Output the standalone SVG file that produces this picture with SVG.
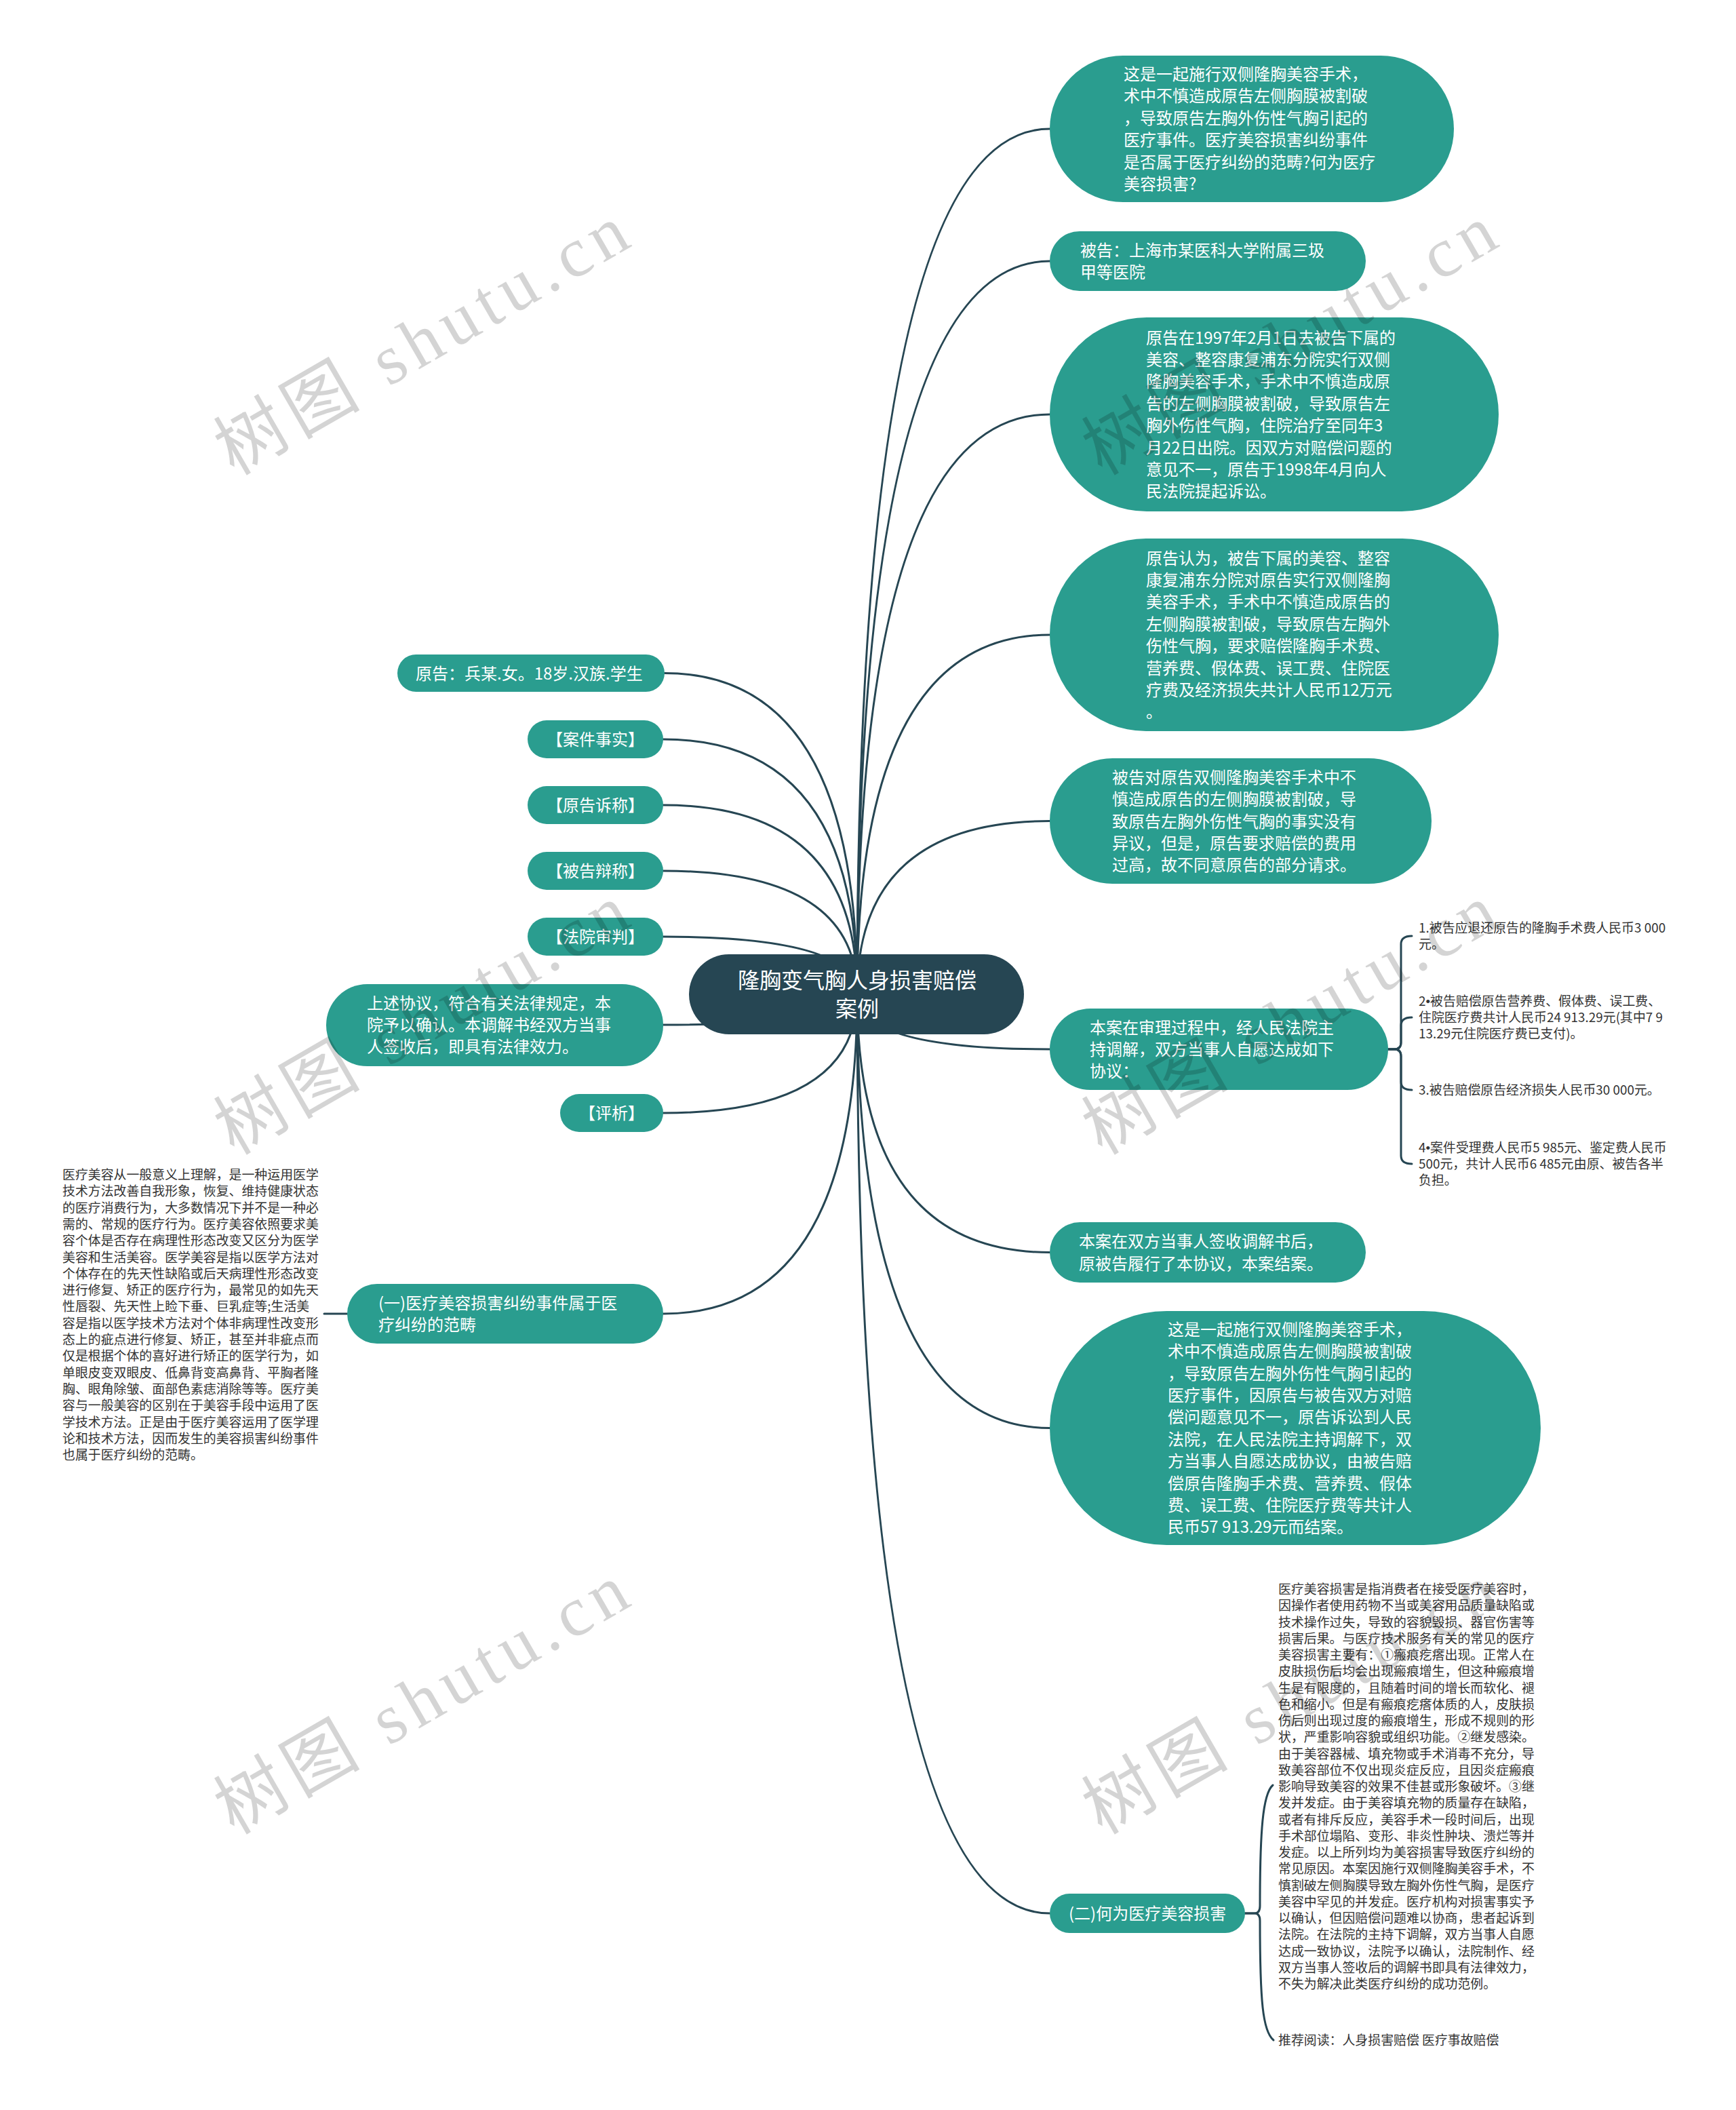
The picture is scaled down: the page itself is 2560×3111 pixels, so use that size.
<svg xmlns="http://www.w3.org/2000/svg" width="2560" height="3111" viewBox="0 0 2560 3111">
<style>
.bg{fill:#ffffff}
.n{fill:#2a9d8f}
.root{fill:#264653}
.t{font-family:"Noto Sans CJK SC","Noto Sans CJK JP",sans-serif;font-size:24px;fill:#ffffff}
.tc{font-family:"Noto Sans CJK SC","Noto Sans CJK JP",sans-serif;font-size:24px;fill:#ffffff;text-anchor:middle}
.rt{font-family:"Noto Sans CJK SC","Noto Sans CJK JP",sans-serif;font-size:32px;fill:#ffffff;text-anchor:middle}
.s{font-family:"Noto Sans CJK SC","Noto Sans CJK JP",sans-serif;font-size:18.9px;fill:#333333}
.b{font-family:"Liberation Sans",sans-serif}
.c{fill:none;stroke:#264653;stroke-width:3;stroke-linecap:round}
.wm{font-family:"Liberation Serif","Noto Sans CJK SC",serif;font-size:104px;fill:#000000;fill-opacity:0.17}
</style>
<rect class="bg" x="0" y="0" width="2560" height="3111"/>

<g id="connectors">
<path class="c" d="M980 992.5 Q1264 992.5 1264 1466"/>
<path class="c" d="M978 1090 Q1264 1090 1264 1466"/>
<path class="c" d="M978 1187 Q1264 1187 1264 1466"/>
<path class="c" d="M978 1284 Q1264 1284 1264 1466"/>
<path class="c" d="M978 1381 Q1264 1381 1264 1466"/>
<path class="c" d="M978 1511 Q1264 1511 1264 1466"/>
<path class="c" d="M978 1641 Q1264 1641 1264 1466"/>
<path class="c" d="M978 1937 Q1264 1937 1264 1466"/>
<path class="c" d="M1264 1466 Q1264 190 1548 190"/>
<path class="c" d="M1264 1466 Q1264 385 1548 385"/>
<path class="c" d="M1264 1466 Q1264 611 1548 611"/>
<path class="c" d="M1264 1466 Q1264 936 1548 936"/>
<path class="c" d="M1264 1466 Q1264 1210.5 1548 1210.5"/>
<path class="c" d="M1264 1466 Q1264 1547 1548 1547"/>
<path class="c" d="M1264 1466 Q1264 1846.5 1548 1846.5"/>
<path class="c" d="M1264 1466 Q1264 2105.5 1548 2105.5"/>
<path class="c" d="M1264 1466 Q1264 2821 1548 2821"/>
<path class="c" d="M512 1937 L478 1937"/>
<path class="c" d="M2047 1547 L2056 1547 Q2066 1547 2066 1537 L2066 1392 Q2066 1380 2082 1380"/>
<path class="c" d="M2047 1547 L2056 1547 Q2066 1547 2066 1537 L2066 1512 Q2066 1500 2082 1500"/>
<path class="c" d="M2047 1547 L2056 1547 Q2066 1547 2066 1557 L2066 1595 Q2066 1607 2082 1607"/>
<path class="c" d="M2047 1547 L2056 1547 Q2066 1547 2066 1557 L2066 1704 Q2066 1716 2082 1716"/>
<path class="c" d="M1836 2821 L1850 2821 Q1858 2821 1858 2810 C1858 2700 1862 2645 1877 2632"/>
<path class="c" d="M1836 2821 L1850 2821 Q1858 2821 1858 2832 C1858 2950 1862 2995 1878 3008"/>
</g>

<g id="root">
<rect class="root" x="1016" y="1407" width="494" height="118" rx="59"/>
<text class="rt" x="1264" y="1457">隆胸变气胸人身损害赔偿</text>
<text class="rt" x="1264" y="1499">案例</text>
</g>

<g id="n-yuangao">
<rect class="n" x="586" y="965" width="394" height="55" rx="27.5"/>
<text class="t" x="613" y="1001.5">原告：兵某.女。18岁.汉族.学生</text>
</g>
<g id="n-anjianshishi">
<rect class="n" x="778" y="1062" width="200" height="56" rx="28"/>
<text class="tc" x="878" y="1099">【案件事实】</text>
</g>
<g id="n-yuangaosucheng">
<rect class="n" x="778" y="1159" width="200" height="56" rx="28"/>
<text class="tc" x="878" y="1196">【原告诉称】</text>
</g>
<g id="n-beigaobiancheng">
<rect class="n" x="778" y="1256" width="200" height="56" rx="28"/>
<text class="tc" x="878" y="1293">【被告辩称】</text>
</g>
<g id="n-fayuanshenpan">
<rect class="n" x="778" y="1353" width="200" height="56" rx="28"/>
<text class="tc" x="878" y="1390">【法院审判】</text>
</g>
<g id="n-shangshuxieyi">
<rect class="n" x="481" y="1451" width="497" height="121" rx="60.5"/>
<text class="t" x="541" y="1487.6">上述协议，符合有关法律规定，本</text>
<text class="t" x="541" y="1520">院予以确认。本调解书经双方当事</text>
<text class="t" x="541" y="1552.4">人签收后，即具有法律效力。</text>
</g>
<g id="n-pingxi">
<rect class="n" x="826" y="1613" width="152" height="56" rx="28"/>
<text class="tc" x="902" y="1650">【评析】</text>
</g>
<g id="n-yi">
<rect class="n" x="512" y="1893" width="466" height="88" rx="44"/>
<text class="t" x="558" y="1929.8">(一)医疗美容损害纠纷事件属于医</text>
<text class="t" x="558" y="1962.2">疗纠纷的范畴</text>
</g>
<g id="n-yi-text">
<text class="s" x="92" y="1739">
<tspan x="92" dy="0">医疗美容从一般意义上理解，是一种运用医学</tspan>
<tspan x="92" dy="24.3">技术方法改善自我形象，恢复、维持健康状态</tspan>
<tspan x="92" dy="24.3">的医疗消费行为，大多数情况下并不是一种必</tspan>
<tspan x="92" dy="24.3">需的、常规的医疗行为。医疗美容依照要求美</tspan>
<tspan x="92" dy="24.3">容个体是否存在病理性形态改变又区分为医学</tspan>
<tspan x="92" dy="24.3">美容和生活美容。医学美容是指以医学方法对</tspan>
<tspan x="92" dy="24.3">个体存在的先天性缺陷或后天病理性形态改变</tspan>
<tspan x="92" dy="24.3">进行修复、矫正的医疗行为，最常见的如先天</tspan>
<tspan x="92" dy="24.3">性唇裂、先天性上睑下垂、巨乳症等;生活美</tspan>
<tspan x="92" dy="24.3">容是指以医学技术方法对个体非病理性改变形</tspan>
<tspan x="92" dy="24.3">态上的疵点进行修复、矫正，甚至并非疵点而</tspan>
<tspan x="92" dy="24.3">仅是根据个体的喜好进行矫正的医学行为，如</tspan>
<tspan x="92" dy="24.3">单眼皮变双眼皮、低鼻背变高鼻背、平胸者隆</tspan>
<tspan x="92" dy="24.3">胸、眼角除皱、面部色素痣消除等等。医疗美</tspan>
<tspan x="92" dy="24.3">容与一般美容的区别在于美容手段中运用了医</tspan>
<tspan x="92" dy="24.3">学技术方法。正是由于医疗美容运用了医学理</tspan>
<tspan x="92" dy="24.3">论和技术方法，因而发生的美容损害纠纷事件</tspan>
<tspan x="92" dy="24.3">也属于医疗纠纷的范畴。</tspan>
</text>
</g>

<g id="n-r1">
<rect class="n" x="1548" y="82" width="596" height="216" rx="108"/>
<text class="t" x="1657" y="118">这是一起施行双侧隆胸美容手术，</text>
<text class="t" x="1657" y="150.4">术中不慎造成原告左侧胸膜被割破</text>
<text class="t" x="1657" y="182.8">，导致原告左胸外伤性气胸引起的</text>
<text class="t" x="1657" y="215.2">医疗事件。医疗美容损害纠纷事件</text>
<text class="t" x="1657" y="247.6">是否属于医疗纠纷的范畴?何为医疗</text>
<text class="t" x="1657" y="280">美容损害?</text>
</g>
<g id="n-r2">
<rect class="n" x="1548" y="341" width="466" height="88" rx="44"/>
<text class="t" x="1593" y="377.8">被告：上海市某医科大学附属三圾</text>
<text class="t" x="1593" y="410.2">甲等医院</text>
</g>
<g id="n-r3">
<rect class="n" x="1548" y="468" width="662" height="286" rx="143"/>
<text class="t" x="1690" y="506.6">原告在1997年2月1日去被告下属的</text>
<text class="t" x="1690" y="539">美容、整容康复浦东分院实行双侧</text>
<text class="t" x="1690" y="571.4">隆胸美容手术，手术中不慎造成原</text>
<text class="t" x="1690" y="603.8">告的左侧胸膜被割破，导致原告左</text>
<text class="t" x="1690" y="636.2">胸外伤性气胸，住院治疗至同年3</text>
<text class="t" x="1690" y="668.6">月22日出院。因双方对赔偿问题的</text>
<text class="t" x="1690" y="701">意见不一，原告于1998年4月向人</text>
<text class="t" x="1690" y="733.4">民法院提起诉讼。</text>
</g>
<g id="n-r4">
<rect class="n" x="1548" y="794" width="662" height="284" rx="142"/>
<text class="t" x="1690" y="831.6">原告认为，被告下属的美容、整容</text>
<text class="t" x="1690" y="864">康复浦东分院对原告实行双侧隆胸</text>
<text class="t" x="1690" y="896.4">美容手术，手术中不慎造成原告的</text>
<text class="t" x="1690" y="928.8">左侧胸膜被割破，导致原告左胸外</text>
<text class="t" x="1690" y="961.2">伤性气胸，要求赔偿隆胸手术费、</text>
<text class="t" x="1690" y="993.6">营养费、假体费、误工费、住院医</text>
<text class="t" x="1690" y="1026">疗费及经济损失共计人民币12万元</text>
<text class="t" x="1690" y="1058.4">。</text>
</g>
<g id="n-r5">
<rect class="n" x="1548" y="1118" width="563" height="185" rx="92.5"/>
<text class="t" x="1640" y="1154.7">被告对原告双侧隆胸美容手术中不</text>
<text class="t" x="1640" y="1187.1">慎造成原告的左侧胸膜被割破，导</text>
<text class="t" x="1640" y="1219.5">致原告左胸外伤性气胸的事实没有</text>
<text class="t" x="1640" y="1251.9">异议，但是，原告要求赔偿的费用</text>
<text class="t" x="1640" y="1284.3">过高，故不同意原告的部分请求。</text>
</g>
<g id="n-r6">
<rect class="n" x="1548" y="1487" width="499" height="120" rx="60"/>
<text class="t" x="1607" y="1523.6">本案在审理过程中，经人民法院主</text>
<text class="t" x="1607" y="1556">持调解，双方当事人自愿达成如下</text>
<text class="t" x="1607" y="1588.4">协议：</text>
</g>
<g id="n-r6-1">
<text class="s" x="2092" y="1374.5">1.被告应退还原告的隆胸手术费人民币3 000</text>
<text class="s" x="2092" y="1398.8">元。</text>
</g>
<g id="n-r6-2">
<text class="s" x="2092" y="1482.7">2<tspan class="b">•</tspan>被告赔偿原告营养费、假体费、误工费、</text>
<text class="s" x="2092" y="1507">住院医疗费共计人民币24 913.29元(其中7 9</text>
<text class="s" x="2092" y="1531.3">13.29元住院医疗费已支付)。</text>
</g>
<g id="n-r6-3">
<text class="s" x="2092" y="1614">3.被告赔偿原告经济损失人民币30 000元。</text>
</g>
<g id="n-r6-4">
<text class="s" x="2092" y="1698.7">4<tspan class="b">•</tspan>案件受理费人民币5 985元、鉴定费人民币</text>
<text class="s" x="2092" y="1723">500元，共计人民币6 485元由原、被告各半</text>
<text class="s" x="2092" y="1747.3">负担。</text>
</g>
<g id="n-r7">
<rect class="n" x="1548" y="1802" width="466" height="89" rx="44.5"/>
<text class="t" x="1591" y="1839.3">本案在双方当事人签收调解书后，</text>
<text class="t" x="1591" y="1871.7">原被告履行了本协议，本案结案。</text>
</g>
<g id="n-r8">
<rect class="n" x="1548" y="1933" width="724" height="345" rx="172.5"/>
<text class="t" x="1722" y="1968.7">这是一起施行双侧隆胸美容手术，</text>
<text class="t" x="1722" y="2001.1">术中不慎造成原告左侧胸膜被割破</text>
<text class="t" x="1722" y="2033.5">，导致原告左胸外伤性气胸引起的</text>
<text class="t" x="1722" y="2065.9">医疗事件，因原告与被告双方对赔</text>
<text class="t" x="1722" y="2098.3">偿问题意见不一，原告诉讼到人民</text>
<text class="t" x="1722" y="2130.7">法院，在人民法院主持调解下，双</text>
<text class="t" x="1722" y="2163.1">方当事人自愿达成协议，由被告赔</text>
<text class="t" x="1722" y="2195.5">偿原告隆胸手术费、营养费、假体</text>
<text class="t" x="1722" y="2227.9">费、误工费、住院医疗费等共计人</text>
<text class="t" x="1722" y="2260.3">民币57 913.29元而结案。</text>
</g>
<g id="n-er">
<rect class="n" x="1548" y="2792" width="288" height="58" rx="29"/>
<text class="t" x="1576" y="2830">(二)何为医疗美容损害</text>
</g>
<g id="n-er-text">
<text class="s" x="1885" y="2350">
<tspan x="1885" dy="0">医疗美容损害是指消费者在接受医疗美容时，</tspan>
<tspan x="1885" dy="24.25">因操作者使用药物不当或美容用品质量缺陷或</tspan>
<tspan x="1885" dy="24.25">技术操作过失，导致的容貌毁损、器官伤害等</tspan>
<tspan x="1885" dy="24.25">损害后果。与医疗技术服务有关的常见的医疗</tspan>
<tspan x="1885" dy="24.25">美容损害主要有：①瘢痕疙瘩出现。正常人在</tspan>
<tspan x="1885" dy="24.25">皮肤损伤后均会出现瘢痕增生，但这种瘢痕增</tspan>
<tspan x="1885" dy="24.25">生是有限度的，且随着时间的增长而软化、褪</tspan>
<tspan x="1885" dy="24.25">色和缩小。但是有瘢痕疙瘩体质的人，皮肤损</tspan>
<tspan x="1885" dy="24.25">伤后则出现过度的瘢痕增生，形成不规则的形</tspan>
<tspan x="1885" dy="24.25">状，严重影响容貌或组织功能。②继发感染。</tspan>
<tspan x="1885" dy="24.25">由于美容器械、填充物或手术消毒不充分，导</tspan>
<tspan x="1885" dy="24.25">致美容部位不仅出现炎症反应，且因炎症瘢痕</tspan>
<tspan x="1885" dy="24.25">影响导致美容的效果不佳甚或形象破坏。③继</tspan>
<tspan x="1885" dy="24.25">发并发症。由于美容填充物的质量存在缺陷，</tspan>
<tspan x="1885" dy="24.25">或者有排斥反应，美容手术一段时间后，出现</tspan>
<tspan x="1885" dy="24.25">手术部位塌陷、变形、非炎性肿块、溃烂等并</tspan>
<tspan x="1885" dy="24.25">发症。以上所列均为美容损害导致医疗纠纷的</tspan>
<tspan x="1885" dy="24.25">常见原因。本案因施行双侧隆胸美容手术，不</tspan>
<tspan x="1885" dy="24.25">慎割破左侧胸膜导致左胸外伤性气胸，是医疗</tspan>
<tspan x="1885" dy="24.25">美容中罕见的并发症。医疗机构对损害事实予</tspan>
<tspan x="1885" dy="24.25">以确认，但因赔偿问题难以协商，患者起诉到</tspan>
<tspan x="1885" dy="24.25">法院。在法院的主持下调解，双方当事人自愿</tspan>
<tspan x="1885" dy="24.25">达成一致协议，法院予以确认，法院制作、经</tspan>
<tspan x="1885" dy="24.25">双方当事人签收后的调解书即具有法律效力，</tspan>
<tspan x="1885" dy="24.25">不失为解决此类医疗纠纷的成功范例。</tspan>
</text>
</g>
<g id="n-er-read">
<text class="s" x="1885" y="3015">推荐阅读：人身损害赔偿 医疗事故赔偿</text>
</g>

<g id="watermarks">
<text class="wm" transform="translate(345 702) rotate(-30)" textLength="680" lengthAdjust="spacing">树图 shutu.cn</text>
<text class="wm" transform="translate(1625 702) rotate(-30)" textLength="680" lengthAdjust="spacing">树图 shutu.cn</text>
<text class="wm" transform="translate(345 1704) rotate(-30)" textLength="680" lengthAdjust="spacing">树图 shutu.cn</text>
<text class="wm" transform="translate(1625 1704) rotate(-30)" textLength="680" lengthAdjust="spacing">树图 shutu.cn</text>
<text class="wm" transform="translate(345 2706) rotate(-30)" textLength="680" lengthAdjust="spacing">树图 shutu.cn</text>
<text class="wm" transform="translate(1625 2706) rotate(-30)" textLength="680" lengthAdjust="spacing">树图 shutu.cn</text>
</g>
</svg>
